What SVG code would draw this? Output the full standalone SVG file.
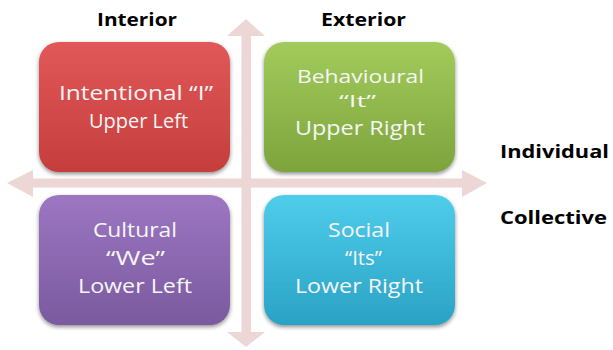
<svg xmlns="http://www.w3.org/2000/svg" width="613" height="350" viewBox="0 0 613 350">
  <defs>
    <linearGradient id="gRed" x1="0" y1="0" x2="0" y2="1">
      <stop offset="0" stop-color="#E25858"/>
      <stop offset="1" stop-color="#C53D3D"/>
    </linearGradient>
    <linearGradient id="gGreen" x1="0" y1="0" x2="0" y2="1">
      <stop offset="0" stop-color="#A2CB5C"/>
      <stop offset="1" stop-color="#7DA43C"/>
    </linearGradient>
    <linearGradient id="gPurple" x1="0" y1="0" x2="0" y2="1">
      <stop offset="0" stop-color="#9D76C2"/>
      <stop offset="1" stop-color="#7A5A9F"/>
    </linearGradient>
    <linearGradient id="gCyan" x1="0" y1="0" x2="0" y2="1">
      <stop offset="0" stop-color="#4FCDEB"/>
      <stop offset="1" stop-color="#2AA2C5"/>
    </linearGradient>
    <filter id="shadow" x="-10%" y="-10%" width="120%" height="125%">
      <feGaussianBlur in="SourceAlpha" stdDeviation="2"/>
      <feOffset dx="0" dy="2" result="b"/>
      <feComponentTransfer><feFuncA type="linear" slope="0.45"/></feComponentTransfer>
      <feMerge><feMergeNode/><feMergeNode in="SourceGraphic"/></feMerge>
    </filter>
  </defs>
  <style>
    .arrow { fill: #ECD6D6; }
    .box { filter: url(#shadow); }
    .bt { font-family: "Open Sans", "Liberation Sans", sans-serif; font-size: 20px; fill: #F6F6F6; }
    .hd { font-family: "Open Sans", "Liberation Sans", sans-serif; font-size: 17px; font-weight: bold; fill: #000000; }
  </style>
  <rect width="613" height="350" fill="#FFFFFF"/>

  <g id="connectors">
    <polygon class="arrow" points="246,19 265,36 251,36 251,332 265,332 246,347 227,332 241.5,332 241.5,36 227,36"/>
    <polygon class="arrow" points="7,183 33,170 33,178.5 462,178.5 462,170 487,183 462,197 462,187.5 33,187.5 33,197"/>
  </g>

  <g id="upper-left">
    <rect class="box" x="39" y="42" width="191" height="130" rx="20" ry="20" fill="url(#gRed)"/>
    <text class="bt" x="59" y="100" textLength="154" lengthAdjust="spacingAndGlyphs">Intentional “I”</text>
    <text class="bt" x="89" y="128" textLength="99" lengthAdjust="spacingAndGlyphs">Upper Left</text>
  </g>

  <g id="upper-right">
    <rect class="box" x="264" y="42" width="191" height="130" rx="20" ry="20" fill="url(#gGreen)"/>
    <text class="bt" x="297" y="83" style="font-size:19px" textLength="127" lengthAdjust="spacingAndGlyphs">Behavioural</text>
    <text class="bt" x="339" y="107" style="font-size:17px" textLength="37" lengthAdjust="spacingAndGlyphs">“It”</text>
    <text class="bt" x="295" y="135" textLength="130" lengthAdjust="spacingAndGlyphs">Upper Right</text>
  </g>

  <g id="lower-left">
    <rect class="box" x="39" y="195" width="191" height="130" rx="20" ry="20" fill="url(#gPurple)"/>
    <text class="bt" x="93" y="237" textLength="84" lengthAdjust="spacingAndGlyphs">Cultural</text>
    <text class="bt" x="106" y="265" textLength="59" lengthAdjust="spacingAndGlyphs">“We”</text>
    <text class="bt" x="78" y="293" textLength="114" lengthAdjust="spacingAndGlyphs">Lower Left</text>
  </g>

  <g id="lower-right">
    <rect class="box" x="264" y="195" width="191" height="130" rx="20" ry="20" fill="url(#gCyan)"/>
    <text class="bt" x="328" y="237" textLength="62" lengthAdjust="spacingAndGlyphs">Social</text>
    <text class="bt" x="345" y="265" textLength="37" lengthAdjust="spacingAndGlyphs">“Its”</text>
    <text class="bt" x="295" y="293" textLength="128" lengthAdjust="spacingAndGlyphs">Lower Right</text>
  </g>

  <g id="label-interior">
    <text class="hd" x="97" y="26" textLength="80" lengthAdjust="spacingAndGlyphs">Interior</text>
  </g>
  <g id="label-exterior">
    <text class="hd" x="321" y="26" textLength="85" lengthAdjust="spacingAndGlyphs">Exterior</text>
  </g>
  <g id="label-individual">
    <text class="hd" x="500" y="158" textLength="109" lengthAdjust="spacingAndGlyphs">Individual</text>
  </g>
  <g id="label-collective">
    <text class="hd" x="500" y="224" textLength="107" lengthAdjust="spacingAndGlyphs">Collective</text>
  </g>
</svg>
